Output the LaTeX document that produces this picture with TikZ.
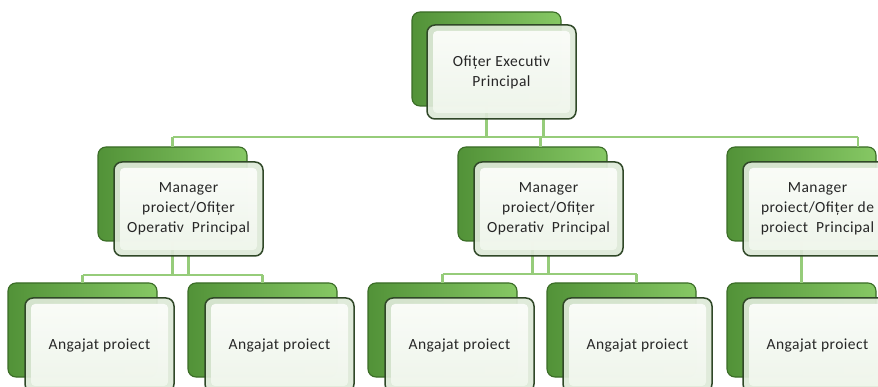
\documentclass[tikz,border=0pt]{standalone}
\usepackage{fontspec}
\setmainfont{Carlito}[LetterSpace=3]
\usetikzlibrary{calc}

\definecolor{conncol}{RGB}{150,204,122}
\definecolor{gdark}{RGB}{82,146,56}
\definecolor{glight}{RGB}{134,200,100}
\definecolor{gedge}{RGB}{58,108,38}
\definecolor{wedge}{RGB}{48,72,40}
\definecolor{wrim}{RGB}{222,233,216}
\definecolor{wtop}{RGB}{253,254,252}
\definecolor{wbot}{RGB}{240,246,236}

\tikzset{
  boxsize/.style={rectangle, rounded corners=8pt, minimum width=149pt,
    minimum height=94pt, inner sep=0pt, outer sep=0pt, anchor=north west},
  backbox/.style={boxsize, draw=gedge, line width=1.1pt,
    left color=gdark, right color=glight},
  frontbox/.style={boxsize, draw=wedge, line width=1.5pt, fill=wrim,
    fill opacity=0.93, text opacity=1, align=center,
    font=\fontsize{15.5}{20}\selectfont, text=black!85,
    path picture={
      \shade[top color=wtop, bottom color=wbot, rounded corners=4pt]
        ($(path picture bounding box.south west)+(6pt,6pt)$) rectangle
        ($(path picture bounding box.north east)+(-6pt,-6pt)$);
    }},
  conn/.style={draw=conncol, line width=2.4pt}
}

\begin{document}
\begin{tikzpicture}[x=1pt,y=-1pt]
\useasboundingbox (0,0) rectangle (878,387);
\clip (0,0) rectangle (878,387);

% back (green) boxes
\node[backbox] (topg) at (412,12) {};
\node[backbox] (m1g) at (98,147) {};
\node[backbox] (m2g) at (458,147) {};
\node[backbox] (m3g) at (727,147) {};
\node[backbox] (b1g) at (8,283) {};
\node[backbox] (b2g) at (188,283) {};
\node[backbox] (b3g) at (368,283) {};
\node[backbox] (b4g) at (547,283) {};
\node[backbox] (b5g) at (727,283) {};

% bus levels
\coordinate (bus0) at (0,137);
\coordinate (bus1) at (0,275);
\coordinate (bus2) at (0,274);

% connectors: top level
\draw[conn] (topg.south |- bus0) -- (topg.south);
\draw[conn] ($(topg.south |- bus0)+(57,0)$) -- ($(topg.south)+(57,12)$);
\draw[conn] (m1g.north |- bus0) -- ($(m3g.north east |- bus0)+(-18,0)$);
\draw[conn] (m1g.north |- bus0) -- (m1g.north);
\draw[conn] ($(m2g.north |- bus0)+(8,0)$) -- ($(m2g.north)+(8,0)$);
\draw[conn] ($(m3g.north east |- bus0)+(-18,0)$) -- ($(m3g.north east)+(-18,0)$);

% connectors: first group
\draw[conn] (m1g.south) -- (m1g.south |- bus1);
\draw[conn] ($(m1g.south)+(16,15)$) -- ($(m1g.south |- bus1)+(16,0)$);
\draw[conn] (b1g.north |- bus1) -- (b2g.north |- bus1);
\draw[conn] (b1g.north |- bus1) -- (b1g.north);
\draw[conn] (b2g.north |- bus1) -- (b2g.north);

% connectors: second group
\draw[conn] (m2g.south) -- (m2g.south |- bus2);
\draw[conn] ($(m2g.south)+(16,15)$) -- ($(m2g.south |- bus2)+(16,0)$);
\draw[conn] (b3g.north |- bus2) -- ($(b4g.north |- bus2)+(15,0)$);
\draw[conn] (b3g.north |- bus2) -- (b3g.north);
\draw[conn] ($(b4g.north |- bus2)+(15,0)$) -- ($(b4g.north)+(15,0)$);

% connectors: third group
\draw[conn] (m3g.south) -- (b5g.north);

% front (white) boxes with labels
\node[frontbox] (topw) at (427,25) {Ofițer Executiv\\Principal};
\node[frontbox] (m1w) at (114,162) {Manager\\proiect/Ofițer\\Operativ\ \ Principal};
\node[frontbox] (m2w) at (474,162) {Manager\\proiect/Ofițer\\Operativ\ \ Principal};
\node[frontbox] (m3w) at (743,162) {Manager\\proiect/Ofițer de\\proiect\ \ Principal};
\node[frontbox] (b1w) at (25,298) {Angajat proiect};
\node[frontbox] (b2w) at (205,298) {Angajat proiect};
\node[frontbox] (b3w) at (385,298) {Angajat proiect};
\node[frontbox] (b4w) at (563,298) {Angajat proiect};
\node[frontbox] (b5w) at (743,298) {Angajat proiect};
\end{tikzpicture}
\end{document}
